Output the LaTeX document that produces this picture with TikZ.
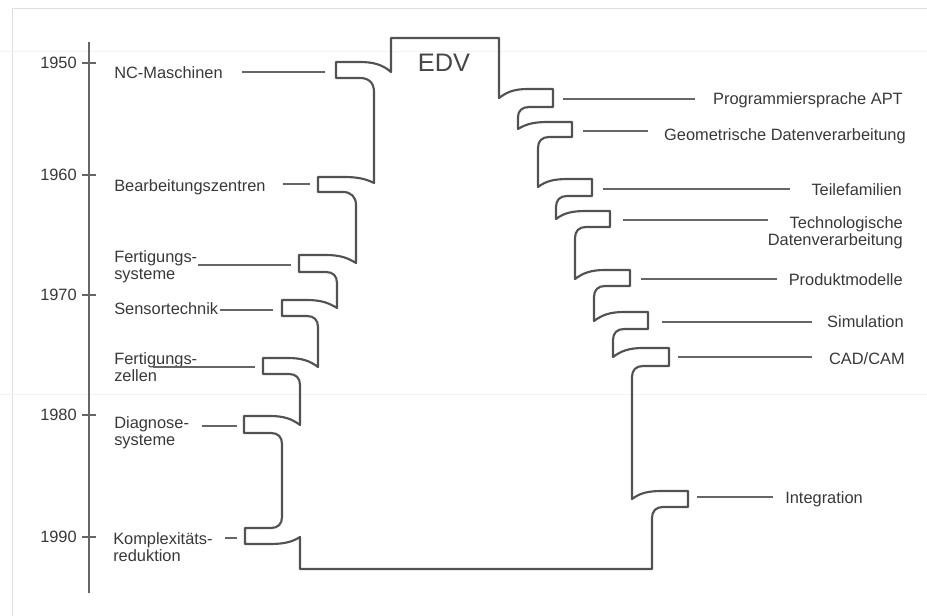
\documentclass[tikz,border=0pt]{standalone}
\usepackage{fontspec}
\setmainfont{Liberation Sans}
\begin{document}
\begin{tikzpicture}[x=0.75pt,y=-0.75pt,
  outline/.style={draw=black!68, line width=1.6pt, line join=round},
  leader/.style={draw=black!60, line width=0.8pt},
  lbl/.style={text=black!78, font=\fontsize{12.3}{12.75}\selectfont, inner sep=0pt},
  yearlbl/.style={text=black!78, font=\fontsize{12.3}{13}\selectfont, inner sep=0pt, anchor=east},
  tickline/.style={draw=black!60, line width=0.8pt},
  framel/.style={draw=black!12, line width=0.6pt}]
\useasboundingbox (0,0) rectangle (927,616);
% faint frame of the scanned page
\draw[framel] (12,616) -- (12,8) -- (927,8);
\draw[draw=black!5, line width=0.5pt] (0,51) -- (927,51);
\draw[draw=black!5, line width=0.5pt] (0,394) -- (927,394);

% time axis
\coordinate (axtop) at (89,42);
\coordinate (axbot) at (89,593);
\draw[tickline] (axtop) -- (axbot);
\foreach \yr/\yy in {1950/63,1960/175,1970/295,1980/415,1990/537}{
  \coordinate (t\yr) at (89,\yy);
  \draw[tickline] (t\yr) ++(-7,0) -- ++(14,0);
  \node[yearlbl] (y\yr) at (77,\yy) {\yr};
}

% outline of the EDV tree
\draw[outline]
 (391,72) -- (391,38) -- (499,38) -- (499,98)
 .. controls (507,92) and (514,89) .. (528,89) -- (553,89) -- (553,107) -- (529,107)
 .. controls (522,107) and (518,111) .. (518,117) -- (518,129)
 .. controls (526,124) and (534,122) .. (548,122) -- (572,122) -- (572,137) -- (549,137)
 .. controls (542,137) and (538,141) .. (538,148) -- (538,187)
 .. controls (546,181) and (554,179) .. (568,179) -- (592,179) -- (592,196) -- (567,196)
 .. controls (560,196) and (556,200) .. (556,207) -- (556,219)
 .. controls (564,213) and (572,211) .. (586,211) -- (610,211) -- (610,227) -- (586,227)
 .. controls (579,227) and (575,231) .. (575,238) -- (575,279)
 .. controls (583,273) and (591,270) .. (605,270) -- (630,270) -- (630,286) -- (605,286)
 .. controls (598,286) and (594,290) .. (594,297) -- (594,321)
 .. controls (602,315) and (610,312) .. (624,312) -- (648,312) -- (648,329) -- (624,329)
 .. controls (617,329) and (613,333) .. (613,340) -- (613,357)
 .. controls (621,351) and (629,348) .. (643,348) -- (669,348) -- (669,366) -- (643,366)
 .. controls (636,366) and (632,370) .. (632,377) -- (632,499)
 .. controls (640,493) and (648,491) .. (662,491) -- (688,491) -- (688,507) -- (663,507)
 .. controls (656,507) and (652,511) .. (652,518) -- (652,569) -- (300,569) -- (300,537)
 .. controls (292,542) and (284,544) .. (270,544) -- (245,544) -- (245,528) -- (271,528)
 .. controls (278,528) and (282,524) .. (282,517) -- (282,444)
 .. controls (282,437) and (278,433) .. (271,433) -- (244,433) -- (244,416) -- (270,416)
 .. controls (284,416) and (292,419) .. (300,425) -- (300,385)
 .. controls (300,378) and (296,374) .. (289,374) -- (263,374) -- (263,358) -- (288,358)
 .. controls (302,358) and (310,361) .. (318,367) -- (318,327)
 .. controls (318,320) and (314,316) .. (307,316) -- (282,316) -- (282,300) -- (307,300)
 .. controls (321,300) and (329,303) .. (337,308) -- (337,283)
 .. controls (337,276) and (333,272) .. (326,272) -- (299,272) -- (299,255) -- (326,255)
 .. controls (340,255) and (348,258) .. (356,263) -- (356,205)
 .. controls (356,197) and (351,192) .. (343,192) -- (318,192) -- (318,177) -- (344,177)
 .. controls (358,177) and (366,179) .. (374,183) -- (374,92)
 .. controls (374,83) and (369,78) .. (360,78) -- (336,78) -- (336,62) -- (360,62)
 .. controls (374,62) and (383,65) .. (391,72) -- cycle;

\node[text=black!72, font=\fontsize{19}{20}\selectfont, inner sep=0pt] (edv) at (444,63) {EDV};

% left labels
\node[lbl, anchor=base west] (nc) at (114,79) {NC-Maschinen};
\node[lbl, anchor=base west] (bz) at (114,192) {Bearbeitungszentren};
\node[lbl, anchor=north west, align=left] (fs) at (114,250.5) {Fertigungs-\\systeme};
\node[lbl, anchor=base west] (st) at (114,315) {Sensortechnik};
\node[lbl, anchor=north west, align=left] (fz) at (114,352.5) {Fertigungs-\\zellen};
\node[lbl, anchor=north west, align=left] (ds) at (114,416.5) {Diagnose-\\systeme};
\node[lbl, anchor=north west, align=left] (kr) at (113,532.5) {Komplexitäts-\\reduktion};

% right labels
\node[lbl, anchor=base east] (apt) at (903,105) {Programmiersprache APT};
\node[lbl, anchor=base east] (gd) at (906,141) {Geometrische Datenverarbeitung};
\node[lbl, anchor=base east] (tf) at (902,196) {Teilefamilien};
\node[lbl, anchor=north east, align=right] (td) at (903,216.5) {Technologische\\Datenverarbeitung};
\node[lbl, anchor=base east] (pm) at (903,286) {Produktmodelle};
\node[lbl, anchor=base east] (sim) at (904,328) {Simulation};
\node[lbl, anchor=base east] (cad) at (905,364) {CAD/CAM};
\node[lbl, anchor=base west] (int) at (785,503) {Integration};

% leader lines
\foreach \n/\xa/\xb/\yy in {nc/242/325/72, bz/283/310/184, fs/198/291/265, st/220/273/310,
  fz/153/255/367, ds/202/237/426, kr/225/237/538,
  apt/563/695/99, gd/583/648/131, tf/603/790/189, td/623/768/220, pm/641/777/279,
  sim/662/812/322, cad/678/812/357, int/697/773/497}{
  \coordinate (\n-a) at (\xa,\yy);
  \coordinate (\n-b) at (\xb,\yy);
  \draw[leader] (\n-a) -- (\n-b);
}
\end{tikzpicture}
\end{document}
